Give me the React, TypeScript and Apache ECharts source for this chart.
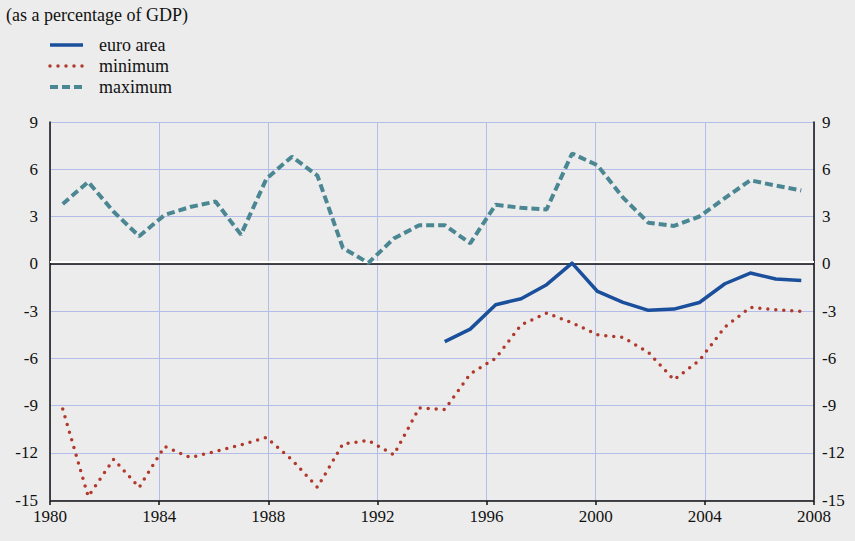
import React, { useEffect, useRef } from "react";
import * as echarts from "echarts";

// hidden period categories (30 annual observations)
const categories = [
  "1978", "1979", "1980", "1981", "1982", "1983", "1984", "1985", "1986", "1987",
  "1988", "1989", "1990", "1991", "1992", "1993", "1994", "1995", "1996", "1997",
  "1998", "1999", "2000", "2001", "2002", "2003", "2004", "2005", "2006", "2007",
];

const euroArea = [
  null, null, null, null, null, null, null, null, null, null,
  null, null, null, null, null, -4.94, -4.15, -2.6, -2.22, -1.33,
  0.04, -1.76, -2.45, -2.96, -2.88, -2.46, -1.27, -0.59, -0.97, -1.06,
];

const minimum = [
  -9.23, -14.78, -12.41, -14.2, -11.6, -12.3, -11.92, -11.5, -11.03, -12.45,
  -14.19, -11.44, -11.22, -12.13, -9.15, -9.25, -6.99, -6.0, -3.88, -3.13,
  -3.75, -4.51, -4.68, -5.63, -7.37, -6.14, -4.02, -2.77, -2.92, -3.03,
];

const maximum = [
  3.8, 5.2, 3.3, 1.75, 3.1, 3.6, 3.95, 1.85, 5.4, 6.8,
  5.6, 1.0, 0.05, 1.6, 2.45, 2.45, 1.3, 3.75, 3.55, 3.45,
  7.0, 6.25, 4.2, 2.6, 2.4, 3.0, 4.17, 5.3, 4.96, 4.65,
];

const seriesNames = ["euro area", "minimum", "maximum"];
const xRange = { min: 1980, max: 2008, step: 4 };
const yRange = { min: -15, max: 9, step: 3 };
const title = "(as a percentage of GDP)";

const FONT = "Liberation Serif, Times New Roman, serif";
const BG = "#ececec";
const GRID = "#b4bce8";
const COLORS = ["#1a4f9c", "#b0392b", "#4a8793"];
const LINE_STYLES: any[] = [
  { color: COLORS[0], width: 3.5, join: "round" },
  { color: COLORS[1], width: 3.5, type: [0, 8], cap: "round" },
  { color: COLORS[2], width: 4, type: [8, 4] },
];

export default function App() {
  const ref = useRef<HTMLDivElement>(null);

  useEffect(() => {
    document.body.style.margin = "0";
    document.body.style.background = BG;
    const chart = echarts.init(ref.current!, null, { renderer: "svg" });
    const label = {
      fontFamily: FONT,
      fontSize: 17,
      fontWeight: "normal",
      color: "#111",
    };

    const legendGraphics: any[] = [];
    seriesNames.forEach((name, i) => {
      const y = 45 + i * 21;
      const ls = LINE_STYLES[i];
      legendGraphics.push({
        type: "line",
        shape: { x1: 50, y1: y, x2: 83, y2: y },
        style: {
          stroke: ls.color,
          lineWidth: ls.width,
          lineDash: Array.isArray(ls.type) ? ls.type : null,
          lineCap: ls.cap || "butt",
        },
      });
      legendGraphics.push({
        type: "text",
        x: 99,
        y: y,
        style: {
          text: name,
          fontFamily: FONT,
          fontSize: 18,
          fill: "#111",
          verticalAlign: "middle",
          align: "left",
        },
      });
    });

    chart.setOption({
      animation: false,
      backgroundColor: BG,
      textStyle: { fontFamily: FONT },
      title: {
        text: title,
        left: 1,
        top: 1,
        textStyle: { fontFamily: FONT, fontSize: 18, fontWeight: "normal", color: "#111" },
      },
      graphic: legendGraphics,
      grid: { left: 50, right: 41, top: 122, bottom: 41 },
      xAxis: [
        {
          type: "value",
          min: xRange.min,
          max: xRange.max,
          interval: xRange.step,
          position: "bottom",
          offset: 1,
          axisLine: { show: true, onZero: false, lineStyle: { color: "#111", width: 1.5 } },
          axisTick: { show: true, length: 4, lineStyle: { color: "#111", width: 1.5 } },
          axisLabel: { ...label, margin: 7, formatter: (v: number) => String(v) },
          splitLine: { show: true, lineStyle: { color: GRID, width: 1 } },
        },
        {
          type: "category",
          data: categories,
          boundaryGap: true,
          show: false,
        },
      ],
      yAxis: [
        {
          type: "value",
          min: yRange.min,
          max: yRange.max,
          interval: yRange.step,
          position: "left",
          axisLine: { show: true, lineStyle: { color: "#111", width: 1.5 } },
          axisTick: { show: false },
          axisLabel: { ...label, margin: 12 },
          splitLine: { show: true, lineStyle: { color: GRID, width: 1 } },
        },
        {
          type: "value",
          min: yRange.min,
          max: yRange.max,
          interval: yRange.step,
          position: "right",
          axisLine: { show: true, lineStyle: { color: "#111", width: 1.5 } },
          axisTick: { show: false },
          axisLabel: { ...label, margin: 8 },
          splitLine: { show: false },
        },
      ],
      series: [
        {
          name: seriesNames[0],
          type: "line",
          xAxisIndex: 1,
          yAxisIndex: 0,
          data: euroArea,
          symbol: "none",
          connectNulls: false,
          z: 5,
          lineStyle: LINE_STYLES[0],
          itemStyle: { color: COLORS[0] },
        },
        {
          name: seriesNames[1],
          type: "line",
          xAxisIndex: 1,
          yAxisIndex: 0,
          data: minimum,
          symbol: "none",
          z: 4,
          lineStyle: LINE_STYLES[1],
          itemStyle: { color: COLORS[1] },
        },
        {
          name: seriesNames[2],
          type: "line",
          xAxisIndex: 1,
          yAxisIndex: 0,
          data: maximum,
          symbol: "none",
          z: 3,
          lineStyle: LINE_STYLES[2],
          itemStyle: { color: COLORS[2] },
          markLine: {
            silent: true,
            symbol: "none",
            label: { show: false },
            z: 2,
            data: [
              { yAxis: 0.11, lineStyle: { color: "#ffffff", width: 2, type: "solid" } },
              { yAxis: 0, lineStyle: { color: "#111111", width: 1.5, type: "solid" } },
            ],
          },
        },
      ],
    });
    return () => chart.dispose();
  }, []);

  return <div ref={ref} style={{ width: 855, height: 541 }} />;
}
